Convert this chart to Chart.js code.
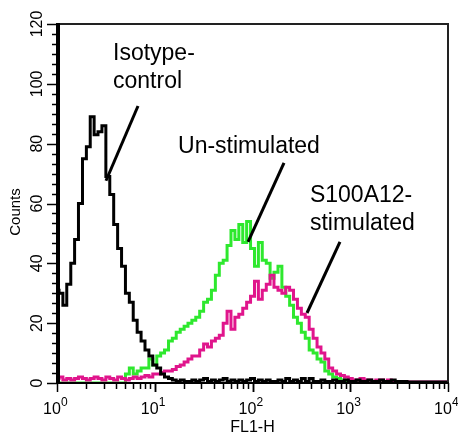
<!DOCTYPE html>
<html><head><meta charset="utf-8">
<script src="https://cdn.jsdelivr.net/npm/chart.js@4/dist/chart.umd.min.js"></script>
<style>html,body{margin:0;padding:0;background:#fff;}canvas{display:block;}</style>
</head><body>
<canvas id="c" width="458" height="437"></canvas>
<script>
// FL1-H channel positions (log-spaced histogram bins)
const fl1Channels = [
  1, 1.1, 1.2, 1.32, 1.45, 1.58, 1.74, 1.91, 2.09, 2.29,
  2.51, 2.75, 3.02, 3.31, 3.63, 3.98, 4.37, 4.79, 5.25, 5.75,
  6.31, 6.92, 7.59, 8.32, 9.12, 10, 11, 12, 13.2, 14.5,
  15.8, 17.4, 19.1, 20.9, 22.9, 25.1, 27.5, 30.2, 33.1, 36.3,
  39.8, 43.7, 47.9, 52.5, 57.5, 63.1, 69.2, 75.9, 83.2, 91.2,
  100, 110, 120, 132, 145, 158, 174, 191, 209, 229,
  251, 275, 302, 331, 363, 398, 437, 479, 525, 575,
  631, 692, 759, 832, 912, 1000, 1100, 1200, 1320, 1450,
  1580, 1740, 1910, 2090, 2290, 2510, 2750, 3020, 3310, 3630,
  3980, 4370, 4790, 5250, 5750, 6310, 6920, 7590, 8320, 9120, 10000
];
const isotypeCounts = [
  31, 30, 26, 33, 40, 48, 60, 75, 79, 89,
  83, 84, 86, 69, 63, 53, 45, 39, 30, 27,
  21, 17, 14, 11, 9, 6, 5, 3, 2, 1.5,
  1, 0.5, 1, 0.5, 0.5, 1, 0.5, 1, 1.5, 0.5,
  1, 0.5, 1, 1.5, 0.5, 1, 0.5, 1, 0.5, 1,
  1.5, 0.5, 1, 0.5, 1, 0.5, 0.5, 1, 0.5, 1.5,
  0.5, 1, 0.5, 1.5, 0.5, 1.5, 0.5, 0.5, 1, 0.5,
  0.5, 1, 0.5, 0.5, 1, 0.5, 0.5, 1, 0.5, 0.5,
  1, 0.5, 0.5, 1, 0.5, 0.5, 1, 0.5, 0.5, 0.5,
  0.3, 0.3, 0.3, 0.3, 0.3, 0.3, 0.3, 0.3, 0.3, 0.3, 0.3
];
const unstimulatedCounts = [
  0, 0, 0, 0, 0, 0, 0, 0, 0, 0,
  0, 0, 0, 0, 0, 0, 0, 0, 3, 5,
  3, 4, 5, 5, 8, 6, 9, 10, 11, 14,
  15, 17, 18, 19, 20, 21, 22, 24, 27, 28,
  31, 36, 40, 41, 46, 51, 48, 53, 47, 54,
  45, 39, 47, 41, 40, 35, 37, 39, 32, 29,
  26, 22, 20, 17, 15, 11, 10, 8, 7, 4,
  3, 2, 1.5, 1, 0.5, 0.5, 0, 0, 0, 0,
  0, 0, 0, 0, 0, 0, 0, 0, 0, 0,
  0, 0, 0, 0, 0, 0, 0, 0, 0, 0, 0
];
const s100a12Counts = [
  1.5, 2, 1, 1.5, 1, 1.5, 2, 1.5, 1, 1.5,
  2, 1.5, 1, 2, 1.5, 1, 2, 1.5, 1, 1.5,
  2, 1.5, 2, 2.5, 2, 3, 3, 3.5, 4, 4,
  4.5, 5.5, 6, 7, 8, 9, 9, 11, 13, 12,
  14, 15, 16, 20, 24, 18, 22, 23, 25, 27,
  29, 34, 28, 31, 33, 36, 32, 31, 30, 32,
  31, 28, 25, 23, 22, 18, 15, 12, 10, 8,
  5, 4, 3, 2.5, 2, 1.5, 1, 1, 1.5, 1,
  1, 0.5, 1, 1, 0.5, 1, 0.5, 0.5, 0.5, 0.5,
  0.3, 0.3, 0.3, 0.3, 0.3, 0.3, 0.3, 0.3, 0.3, 0.3, 0.3
];
const yTickLabels = [0, 20, 40, 60, 80, 100, 120];
const xDecades = [1, 10, 100, 1000, 10000];
const xDecadeExponents = ['0', '1', '2', '3', '4'];
const xAxisTitle = 'FL1-H';
const yAxisTitle = 'Counts';
const calloutTexts = [['Isotype-', 'control'], ['Un-stimulated'], ['S100A12-', 'stimulated']];
// callout anchors (data coords: FL1-H, Counts)
const calloutTextAt = [[3.74, 108], [17.3, 76.9], [387, 60.5]];
const calloutLineFrom = [[6.74, 92.6], [210, 73.6], [785, 47.2]];
const calloutLineTo = [[3.17, 67.6], [90, 47.2], [361, 23.4]];

const toPts = arr => fl1Channels.map((x, i) => ({x, y: arr[i]}));
const FONT = '"Liberation Sans", Arial, sans-serif';

const axesPlugin = {
  id: 'axesPlugin',
  afterDatasetsDraw(chart) {
    const {ctx, chartArea: a, scales: {x, y}} = chart;
    ctx.save();
    // frame
    ctx.strokeStyle = '#222'; ctx.lineWidth = 2;
    ctx.beginPath(); ctx.moveTo(a.left, a.top); ctx.lineTo(a.right, a.top); ctx.lineTo(a.right, a.bottom); ctx.stroke();
    ctx.strokeStyle = '#000';
    ctx.beginPath(); ctx.moveTo(a.left, a.bottom); ctx.lineTo(a.right + 1, a.bottom); ctx.stroke();
    ctx.fillStyle = '#000';
    ctx.fillRect(a.left - 1, a.top - 1, 4, a.bottom - a.top + 2);
    // y ticks
    ctx.lineWidth = 1.5;
    for (let k = 0; k <= 36; k++) {
      const v = k * 20 / 6;
      const py = Math.round(y.getPixelForValue(v)) + 0.5;
      const len = (k % 6 === 0) ? 10 : 5;
      ctx.beginPath(); ctx.moveTo(a.left - len, py); ctx.lineTo(a.left, py); ctx.stroke();
    }
    // x ticks
    for (let d = 0; d < 4; d++) {
      for (let m = 1; m <= 10; m++) {
        const v = m * xDecades[d];
        const px = Math.round(x.getPixelForValue(v)) + 0.5;
        const len = (m === 1 || m === 10) ? 9 : 6;
        ctx.beginPath(); ctx.moveTo(px, a.bottom); ctx.lineTo(px, a.bottom + len); ctx.stroke();
      }
    }
    // y labels
    ctx.fillStyle = '#000';
    ctx.font = '16px ' + FONT;
    ctx.textAlign = 'center'; ctx.textBaseline = 'middle';
    yTickLabels.forEach(v => {
      ctx.save();
      ctx.translate(37, y.getPixelForValue(v));
      ctx.rotate(-Math.PI / 2);
      ctx.fillText(String(v), 0, 1);
      ctx.restore();
    });
    // x labels
    xDecades.forEach((v, i) => {
      const px = x.getPixelForValue(v);
      ctx.font = '16px ' + FONT;
      ctx.textAlign = 'center'; ctx.textBaseline = 'alphabetic';
      ctx.fillText('10', px - 5, 414);
      const w = ctx.measureText('10').width;
      ctx.font = '12px ' + FONT;
      ctx.textAlign = 'left';
      ctx.fillText(xDecadeExponents[i], px - 5 + w / 2, 406);
    });
    // axis titles
    ctx.font = '16px ' + FONT;
    ctx.textAlign = 'center'; ctx.textBaseline = 'alphabetic';
    ctx.fillText(xAxisTitle, x.getPixelForValue(100), 432);
    ctx.save();
    ctx.translate(16, 212);
    ctx.rotate(-Math.PI / 2);
    ctx.font = '15px ' + FONT;
    ctx.textBaseline = 'middle';
    ctx.fillText(yAxisTitle, 0, 0);
    ctx.restore();
    // callouts
    ctx.font = '23px ' + FONT;
    ctx.textAlign = 'left'; ctx.textBaseline = 'alphabetic';
    calloutTexts.forEach((lines, i) => {
      const tx = x.getPixelForValue(calloutTextAt[i][0]);
      const ty = y.getPixelForValue(calloutTextAt[i][1]);
      lines.forEach((t, j) => ctx.fillText(t, tx, ty + j * 28));
      ctx.lineWidth = 3; ctx.lineCap = 'butt';
      ctx.beginPath();
      ctx.moveTo(x.getPixelForValue(calloutLineFrom[i][0]), y.getPixelForValue(calloutLineFrom[i][1]));
      ctx.lineTo(x.getPixelForValue(calloutLineTo[i][0]), y.getPixelForValue(calloutLineTo[i][1]));
      ctx.stroke();
    });
    ctx.restore();
  }
};

const bgPlugin = {
  id: 'bg',
  beforeDraw(chart) {
    const {ctx, width, height} = chart;
    ctx.save(); ctx.fillStyle = '#fff'; ctx.fillRect(0, 0, width, height); ctx.restore();
  }
};

new Chart(document.getElementById('c'), {
  type: 'line',
  data: {
    datasets: [
      {label: 'Isotype-control', data: toPts(isotypeCounts), borderColor: '#000', borderWidth: 3},
      {label: 'S100A12-stimulated', data: toPts(s100a12Counts), borderColor: '#e0158c', borderWidth: 3},
      {label: 'Un-stimulated', data: toPts(unstimulatedCounts), borderColor: '#2ee82e', borderWidth: 3}
    ]
  },
  options: {
    responsive: false,
    animation: false,
    devicePixelRatio: 1,
    layout: {padding: {left: 57, right: 10, top: 24, bottom: 54}},
    elements: {point: {radius: 0}, line: {stepped: 'middle', tension: 0, fill: false}},
    plugins: {legend: {display: false}, tooltip: {enabled: false}},
    scales: {
      x: {type: 'logarithmic', min: 1, max: 10000, display: false},
      y: {type: 'linear', min: 0, max: 120, display: false}
    }
  },
  plugins: [bgPlugin, axesPlugin]
});
</script>
</body></html>
